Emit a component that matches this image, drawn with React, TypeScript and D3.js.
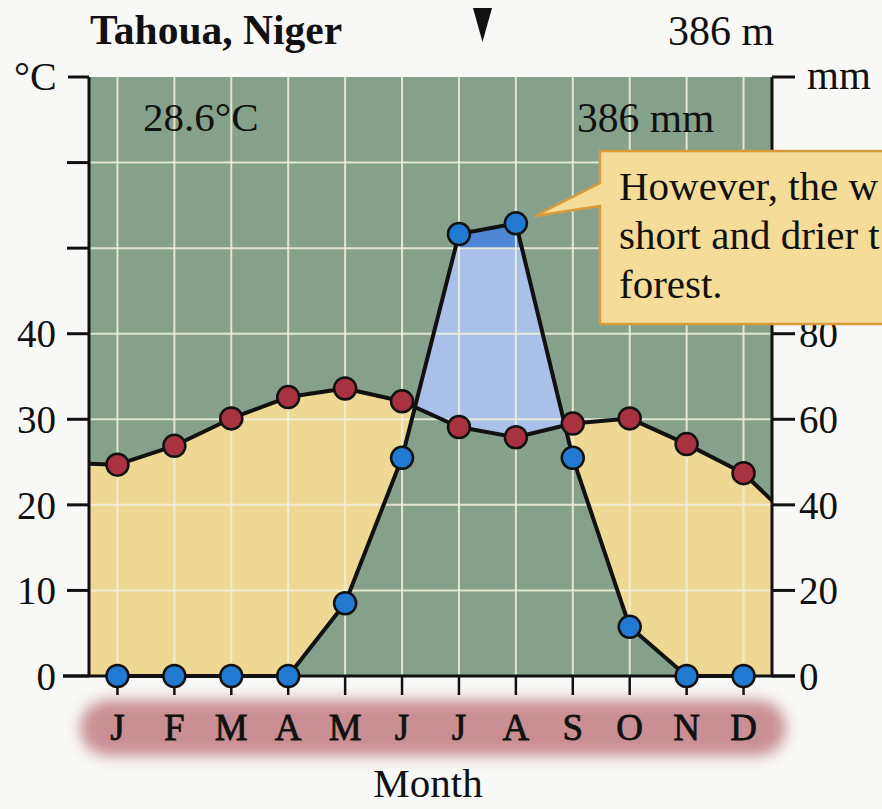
import React from "react";
import * as d3 from "d3";

const months = ["J", "F", "M", "A", "M", "J", "J", "A", "S", "O", "N", "D"];
const temperature = [24.7, 26.9, 30.1, 32.6, 33.6, 32.1, 29.1, 27.9, 29.5, 30.1, 27.1, 23.7];
const tempEdges = [24.8, 20.5];
const precipitation = [0, 0, 0, 0, 17, 51, 133, 158, 51, 11.5, 0, 0];
const leftTicks = [0, 10, 20, 30, 40, 50, 60];
const leftLabels = [0, 10, 20, 30, 40];
const rightTicks = [0, 20, 40, 60, 80, 100];
const rightLabels = [0, 20, 40, 60, 80];
const calloutLines = ["However, the w", "short and drier t", "forest."];

const W = 882, H = 809;
const X0 = 89, X1 = 772, Y0 = 676, YT = 77;
const SERIF = "'Liberation Serif', 'Times New Roman', serif";

const x = d3.scaleLinear().domain([0, 12]).range([X0, X1]);
const y = d3.scaleLinear().domain([0, 70]).range([Y0, YT]);
const mmToC = (mm: number) => (mm <= 100 ? mm / 2 : 50 + (mm - 100) / 20);
const yP = (mm: number) => y(mmToC(mm));
const mx = (i: number) => x(i + 0.5);

export default function App() {
  const tPts: [number, number][] = [
    [X0, y(tempEdges[0])],
    ...temperature.map((t, i) => [mx(i), y(t)] as [number, number]),
    [X1, y(tempEdges[1])],
  ];
  const pPts: [number, number][] = precipitation.map((p, i) => [mx(i), yP(p)]);
  const line = d3.line<[number, number]>();
  const poly = (pts: [number, number][]) => line(pts) + "Z";

  const aboveP = poly([[X0, YT], [X0, y(0)], ...pPts, [X1, y(0)], [X1, YT]]);
  const belowT = poly([...tPts, [X1, Y0], [X0, Y0]]);
  const aboveT = poly([...tPts, [X1, YT], [X0, YT]]);
  const belowP = poly([...pPts, [mx(11), Y0], [mx(0), Y0]]);

  const gridCol = "#f3f1dc";

  return (
    <svg width={W} height={H} style={{ position: "absolute", left: 0, top: 0, background: "#f8f8f6" }}>
      <defs>
        <clipPath id="cAboveP"><path d={aboveP} /></clipPath>
        <clipPath id="cAboveT"><path d={aboveT} /></clipPath>
        <clipPath id="cAbove100"><rect x={X0} y={YT} width={X1 - X0} height={yP(100) - YT} /></clipPath>
        <filter id="blur" x="-10%" y="-50%" width="120%" height="200%">
          <feGaussianBlur stdDeviation="7" />
        </filter>
      </defs>

      {/* background */}
      <rect x={X0} y={YT} width={X1 - X0} height={Y0 - YT} fill="#86a18b" />
      <path d={belowT} fill="#efd894" clipPath="url(#cAboveP)" />
      <path d={belowP} fill="#a9c1e8" clipPath="url(#cAboveT)" />
      <path d={belowP} fill="#4f86d6" clipPath="url(#cAbove100)" />

      {/* grid */}
      {months.map((_, i) => (
        <line key={"vg" + i} x1={mx(i)} x2={mx(i)} y1={YT} y2={Y0} stroke={gridCol} strokeWidth={2} opacity={0.85} />
      ))}
      {leftTicks.map((t) => (
        <line key={"hg" + t} x1={X0} x2={X1} y1={y(t)} y2={y(t)} stroke={gridCol} strokeWidth={2} opacity={0.85} />
      ))}

      {/* month band */}
      <rect x={80} y={700} width={706} height={56} rx={28} fill="#c4848a" filter="url(#blur)" opacity={0.9} />

      {/* axes */}
      <line x1={X0} x2={X0} y1={YT} y2={Y0} stroke="#111" strokeWidth={3} />
      <line x1={X1} x2={X1} y1={YT} y2={Y0} stroke="#111" strokeWidth={3} />
      <line x1={68} x2={X0} y1={YT} y2={YT} stroke="#111" strokeWidth={3} />
      <line x1={X1} x2={795} y1={YT} y2={YT} stroke="#111" strokeWidth={3} />
      {leftTicks.map((t) => (
        <line key={"lt" + t} x1={t === 0 ? 63 : 67} x2={X0} y1={y(t)} y2={y(t)} stroke="#111" strokeWidth={3} />
      ))}
      {leftLabels.map((t) => (
        <text key={"ll" + t} x={56} y={y(t)} dy="0.35em" textAnchor="end" fontFamily={SERIF} fontSize={39} fill="#111">{t}</text>
      ))}
      {rightTicks.map((t) => (
        <line key={"rt" + t} x1={X1} x2={795} y1={yP(t)} y2={yP(t)} stroke="#111" strokeWidth={3} />
      ))}
      {rightLabels.map((t) => (
        <text key={"rl" + t} x={799} y={yP(t)} dy="0.35em" textAnchor="start" fontFamily={SERIF} fontSize={39} fill="#111">{t}</text>
      ))}
      <line x1={63} x2={795} y1={Y0} y2={Y0} stroke="#111" strokeWidth={3} />
      {months.map((m, i) => (
        <g key={"m" + i}>
          <line x1={mx(i)} x2={mx(i)} y1={Y0} y2={695} stroke="#111" strokeWidth={2.5} />
          <text x={mx(i)} y={740} textAnchor="middle" fontFamily={SERIF} fontSize={37} fill="#111" stroke="#111" strokeWidth={0.8}>{m}</text>
        </g>
      ))}

      {/* lines */}
      <path d={line(tPts) || ""} fill="none" stroke="#111" strokeWidth={4} strokeLinejoin="round" />
      <path d={line(pPts) || ""} fill="none" stroke="#111" strokeWidth={4} strokeLinejoin="round" />
      {temperature.map((t, i) => (
        <circle key={"tc" + i} cx={mx(i)} cy={y(t)} r={11} fill="#a8323f" stroke="#111" strokeWidth={2.5} />
      ))}
      {precipitation.map((p, i) => (
        <circle key={"pc" + i} cx={mx(i)} cy={yP(p)} r={11} fill="#2179d2" stroke="#111" strokeWidth={2.5} />
      ))}

      {/* texts */}
      <text x={90} y={44} fontFamily={SERIF} fontSize={41.5} fontWeight="bold" fill="#111">Tahoua, Niger</text>
      <text x={668} y={45} fontFamily={SERIF} fontSize={42} fill="#111">386 m</text>
      <text x={14} y={90} fontFamily={SERIF} fontSize={40} fill="#111">°C</text>
      <text x={807} y={89} fontFamily={SERIF} fontSize={41} fill="#111">mm</text>
      <text x={143} y={131} fontFamily={SERIF} fontSize={41} fill="#111">28.6°C</text>
      <text x={577} y={132} fontFamily={SERIF} fontSize={41.5} fill="#111">386 mm</text>
      <text x={428} y={797} textAnchor="middle" fontFamily={SERIF} fontSize={41} fill="#111">Month</text>
      <path d="M473,8 L492,8 L482.5,42 Z" fill="#111" />

      {/* callout */}
      <path d="M600,151 H905 V324 H600 V206 L535,216 L600,183 Z" fill="#f5dc98" stroke="#d89b3a" strokeWidth={2.5} strokeLinejoin="miter" />
      {calloutLines.map((s, i) => (
        <text key={"cl" + i} x={619} y={200 + i * 49} fontFamily={SERIF} fontSize={41} fill="#111">{s}</text>
      ))}
    </svg>
  );
}
